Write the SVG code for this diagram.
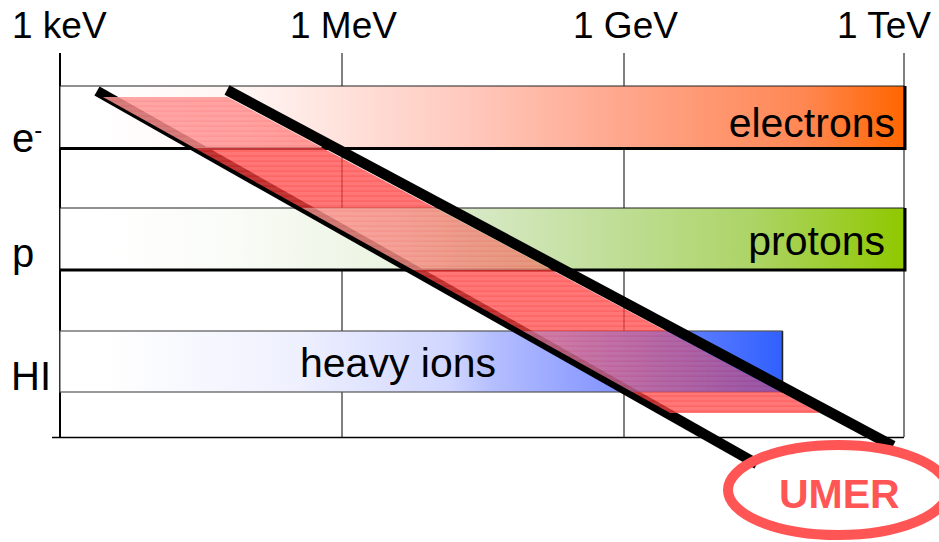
<svg xmlns="http://www.w3.org/2000/svg" width="939" height="542" viewBox="0 0 939 542">
<defs>
<style>
.lbl{font-family:"Liberation Sans",Arial,sans-serif;fill:#000}
.grid{stroke:#000;stroke-width:1;fill:none}
.beam{stroke:#000;stroke-width:10.5;fill:none;stroke-linecap:butt}
</style>
<linearGradient id="gE" gradientUnits="userSpaceOnUse" x1="60" y1="0" x2="904" y2="0">
<stop offset="0" stop-color="#ffffff"/><stop offset="0.047" stop-color="#ffffff"/><stop offset="0.225" stop-color="#fff4f2"/><stop offset="0.486" stop-color="#ffc8bc"/><stop offset="0.668" stop-color="#ffa68c"/><stop offset="0.877" stop-color="#ff8855"/><stop offset="1" stop-color="#ff6600"/>
</linearGradient>
<linearGradient id="gP" gradientUnits="userSpaceOnUse" x1="60" y1="0" x2="904" y2="0">
<stop offset="0" stop-color="#ffffff"/><stop offset="0.047" stop-color="#ffffff"/><stop offset="0.2" stop-color="#fafcf8"/><stop offset="0.4" stop-color="#eaf3e0"/><stop offset="0.486" stop-color="#d8e9c6"/><stop offset="0.64" stop-color="#c2df9c"/><stop offset="0.82" stop-color="#acd466"/><stop offset="1" stop-color="#90c800"/>
</linearGradient>
<linearGradient id="gH" gradientUnits="userSpaceOnUse" x1="60" y1="0" x2="783" y2="0">
<stop offset="0" stop-color="#ffffff"/><stop offset="0.06" stop-color="#ffffff"/><stop offset="0.33" stop-color="#eef0fe"/><stop offset="0.54" stop-color="#d0d6ff"/><stop offset="0.6" stop-color="#b4beff"/><stop offset="0.75" stop-color="#8898ff"/><stop offset="1" stop-color="#3060ff"/>
</linearGradient>
<pattern id="stripes" patternUnits="userSpaceOnUse" x="0" y="97" width="10" height="5">
<rect width="10" height="5" fill="#ff4a4a"/><rect y="3.5" width="10" height="1.2" fill="#ff2a2a"/>
</pattern>
<clipPath id="bandClip"><polygon points="103,97 227,97 820,413 670,413"/></clipPath>
</defs>

<rect width="939" height="542" fill="#fff"/>

<g id="axis-labels">
<text class="lbl" x="12" y="38" font-size="37">1 keV</text>
<text class="lbl" x="290" y="38" font-size="37">1 MeV</text>
<text class="lbl" x="573" y="38" font-size="37">1 GeV</text>
<text class="lbl" x="837" y="38" font-size="37">1 TeV</text>
</g>

<g id="grid">
<line class="grid" x1="342" y1="53" x2="342" y2="437"/>
<line class="grid" x1="624" y1="53" x2="624" y2="437"/>
<line class="grid" x1="904" y1="53" x2="904" y2="437"/>
<line x1="60" y1="53" x2="60" y2="438" stroke="#000" stroke-width="2"/>
<line x1="52" y1="437.5" x2="904" y2="437.5" stroke="#000" stroke-width="1.5"/>
</g>

<g id="row-labels">
<text class="lbl" x="12" y="152" font-size="40">e<tspan font-size="24" dy="-14">-</tspan></text>
<text class="lbl" x="12" y="267" font-size="40">p</text>
<text class="lbl" x="11" y="390" font-size="40">HI</text>
</g>

<g id="electrons">
<rect x="60" y="86" width="844" height="62" fill="url(#gE)" stroke="#222" stroke-width="1"/>
<polyline points="60,148.5 905,148.5 905,86" fill="none" stroke="#000" stroke-width="3"/>
<text class="lbl" x="895" y="137" font-size="41" text-anchor="end">electrons</text>
</g>

<g id="protons">
<rect x="60" y="208" width="844" height="62" fill="url(#gP)" stroke="#222" stroke-width="1"/>
<polyline points="60,270 905,270 905,208" fill="none" stroke="#000" stroke-width="3"/>
<text class="lbl" x="885" y="255" font-size="41" text-anchor="end">protons</text>
</g>

<g id="heavy-ions">
<rect x="60" y="331" width="722" height="61" fill="url(#gH)" stroke="#555" stroke-width="1.2"/>
<line x1="782.5" y1="331" x2="782.5" y2="392" stroke="#222" stroke-width="1.5"/>
</g>

<g id="connectors">
<line class="beam" x1="97" y1="91" x2="757" y2="464"/>
<g id="band">
<polygon points="103,97 227,97 820,413 670,413" fill="url(#stripes)" opacity="0.75"/>
<g clip-path="url(#bandClip)" opacity="0.35">
<rect x="60" y="86" width="844" height="62" fill="url(#gE)"/>
<rect x="60" y="208" width="844" height="62" fill="url(#gP)"/>
<rect x="60" y="331" width="722" height="61" fill="url(#gH)"/>
</g>
</g>
<text class="lbl" x="300" y="377" font-size="41">heavy ions</text>
<line class="beam" x1="227" y1="90" x2="893" y2="446"/>
</g>

<g id="umer">
<ellipse cx="838" cy="490" rx="110" ry="45" fill="none" stroke="#ff5555" stroke-width="10"/>
<text x="779" y="508" font-size="41" font-weight="bold" fill="#ff5555" font-family="'Liberation Sans',Arial,sans-serif">UMER</text>
</g>
</svg>
